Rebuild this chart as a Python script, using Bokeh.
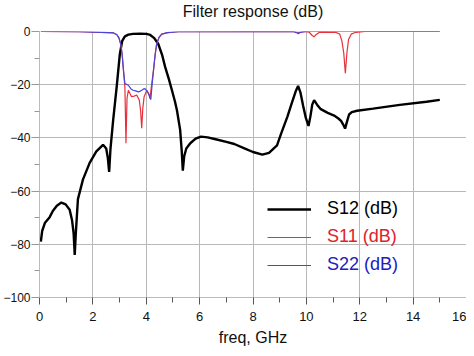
from bokeh.plotting import figure
from bokeh.models import FixedTicker, Span, Legend, LegendItem, Range1d
from bokeh.embed import file_html
from bokeh.resources import INLINE

# ---- data ----
freq_s12 = [0.05, 0.1, 0.2, 0.38, 0.5, 0.65, 0.82, 0.98, 1.13, 1.22, 1.28, 1.32, 1.36, 1.44,
            1.63, 1.88, 2.13, 2.38, 2.5, 2.56, 2.61, 2.66, 2.76, 2.89, 3.01, 3.1, 3.2, 3.33,
            3.5, 3.77, 4.0, 4.15, 4.3, 4.45, 4.6, 4.71, 4.85, 4.96, 5.08, 5.15, 5.27, 5.33,
            5.37, 5.42, 5.5, 5.65, 5.85, 6.05, 6.3, 6.6, 7.0, 7.3, 7.7, 8.0, 8.35, 8.6, 8.9,
            9.05, 9.29, 9.45, 9.6, 9.69, 9.78, 9.88, 9.98, 10.08, 10.15, 10.22, 10.29, 10.4,
            10.54, 10.8, 11.04, 11.2, 11.3, 11.38, 11.45, 11.52, 11.6, 11.7, 11.9, 12.5, 13.5,
            14.5, 15.0]
s12_db = [-79, -75, -72, -69.8, -67.5, -65.5, -64.3, -65, -67, -71, -76, -84, -76, -63,
          -55.6, -49.4, -45.1, -42.6, -44, -47.5, -52.8, -44, -33.3, -21, -8.5, -3.5, -1.8, -1.2,
          -0.9, -0.8, -0.9, -1.3, -2.5, -4.7, -9, -13.4, -18, -22, -26.5, -29.6, -37, -45,
          -52.3, -47, -44, -42, -40.3, -39.5, -39.8, -40.5, -41.5, -42.3, -44, -45.3, -46.3, -45.6, -42.8,
          -38.5, -32, -27, -22.5, -20.5, -23, -28, -32.5, -35.5, -32, -27.5, -25.8, -27.5,
          -29.2, -30.6, -31.6, -32.7, -33.6, -35, -36.5, -34, -31.2, -30.3, -29.8, -29, -27.6,
          -26.4, -25.7]

freq_s11 = [0.05, 1.5, 2.3, 2.6, 2.76, 2.9, 2.98, 3.05, 3.1, 3.15, 3.2, 3.24, 3.28, 3.33,
            3.45, 3.55, 3.64, 3.74, 3.79, 3.83, 3.87, 3.92, 4.02, 4.1, 4.14, 4.2, 4.27, 4.33,
            4.39, 4.48, 4.58, 4.8, 5.2, 9.5, 9.7, 9.9, 10.1, 10.22, 10.29, 10.36, 10.5, 11.1,
            11.25, 11.33, 11.4, 11.46, 11.52, 11.58, 11.68, 11.85, 12.2, 15.0]
s11_db = [0, -0.1, -0.3, -0.4, -0.5, -1.2, -2.5, -5, -9, -15, -21, -42, -25, -22.1,
          -24.5, -24.3, -23.9, -25.8, -30, -36.4, -29, -24.5, -22.1, -23.5, -25.2, -20, -14.7, -9,
          -4.7, -2.2, -1, -0.4, -0.1, 0, -0.3, 0, -0.2, -1.5, -2, -1.2, -0.2, -0.3,
          -1, -3.5, -8, -15.7, -8, -3, -1, -0.3, 0, 0]

freq_s22 = [0.05, 1.5, 2.3, 2.6, 2.76, 2.9, 2.98, 3.05, 3.1, 3.15, 3.2, 3.33, 3.42, 3.51,
            3.6, 3.7, 3.78, 3.83, 3.9, 3.95, 4.05, 4.11, 4.17, 4.22, 4.27, 4.33, 4.39, 4.48,
            4.58, 4.8, 5.2, 9.5, 9.62, 9.7, 9.78, 10.0, 15.0]
s22_db = [0, -0.1, -0.3, -0.4, -0.5, -1.2, -2.5, -5, -9, -15, -19.6, -20.2, -21.5, -22.1,
          -22.3, -22.7, -22.4, -22.1, -21.6, -21.5, -22.7, -24, -25.6, -20, -14.7, -9, -4.7, -2.2,
          -1, -0.4, -0.1, 0, -0.4, -0.8, -0.3, 0, 0]

x_ticks = [0, 2, 4, 6, 8, 10, 12, 14, 16]
x_minor = [1, 3, 5, 7, 9, 11, 13, 15]
y_ticks = [-100, -80, -60, -40, -20, 0]
y_minor = [-90, -70, -50, -30, -10]

FONT = "Liberation Sans"

p = figure(width=466, height=348, output_backend="svg", toolbar_location=None,
           x_range=Range1d(0, 16), y_range=Range1d(-100, 0),
           title="Filter response (dB)",
           min_border_left=0, min_border_right=0, min_border_top=0, min_border_bottom=0)

p.border_fill_color = "white"
p.title.align = "center"
p.title.text_font = FONT
p.title.text_font_style = "normal"
p.title.text_font_size = "16px"
p.title.text_color = "#111111"
p.title.standoff = 0
p.title.padding = dict(top=0, bottom=12, left=0, right=0)

p.outline_line_color = None
p.background_fill_color = "white"

# x axis
xa = p.xaxis[0]
xa.ticker = FixedTicker(ticks=x_ticks, minor_ticks=x_minor)
xa.axis_label = "freq, GHz"
xa.axis_label_text_font = FONT
xa.axis_label_text_font_style = "normal"
xa.axis_label_text_font_size = "16px"
xa.axis_label_text_color = "#111111"
xa.axis_label_standoff = 5
xa.major_label_text_font = FONT
xa.major_label_text_font_size = "13px"
xa.major_label_text_color = "#111111"
xa.major_label_standoff = 7
xa.axis_line_color = "#bbbbbb"
xa.major_tick_line_color = "#555555"
xa.minor_tick_line_color = "#555555"
xa.major_tick_out = 7
xa.major_tick_in = 0
xa.minor_tick_out = 5
xa.minor_tick_in = 0

# y axis
ya = p.yaxis[0]
ya.ticker = FixedTicker(ticks=y_ticks, minor_ticks=y_minor)
ya.major_label_text_font = FONT
ya.major_label_text_font_size = "12px"
ya.major_label_text_color = "#111111"
ya.major_label_standoff = 1
ya.axis_line_color = "#bbbbbb"
ya.major_tick_line_color = "#999999"
ya.minor_tick_line_color = "#999999"
ya.major_tick_out = 8
ya.major_tick_in = 0
ya.minor_tick_out = 5
ya.minor_tick_in = 0

p.xgrid.grid_line_color = "#b8b8b8"
p.ygrid.grid_line_color = "#b8b8b8"

p.add_layout(Span(location=16, dimension="height", line_color="#444444", line_width=1))

r12 = p.line(freq_s12, s12_db, line_color="black", line_width=2.4)
r11 = p.line(freq_s11, s11_db, line_color="#e8303c", line_width=1.2)
r22 = p.line(freq_s22, s22_db, line_color="#4a44d8", line_width=1.2)

def add_legend(label, renderer, color, ypos):
    leg = Legend(items=[LegendItem(label=label, renderers=[renderer])],
                 location=(228, ypos), orientation="vertical",
                 border_line_color=None, background_fill_alpha=0,
                 padding=0, margin=0, glyph_width=44, glyph_height=20,
                 label_height=20, label_standoff=16,
                 label_text_font=FONT, label_text_font_size="18px",
                 label_text_color=color, label_text_font_style="normal")
    p.add_layout(leg)

add_legend("S12 (dB)", r12, "#000000", 78)
add_legend("S11 (dB)", r11, "#e0202a", 50)
add_legend("S22 (dB)", r22, "#2020c0", 22)

open("out.html", "w").write(file_html(p, INLINE))
